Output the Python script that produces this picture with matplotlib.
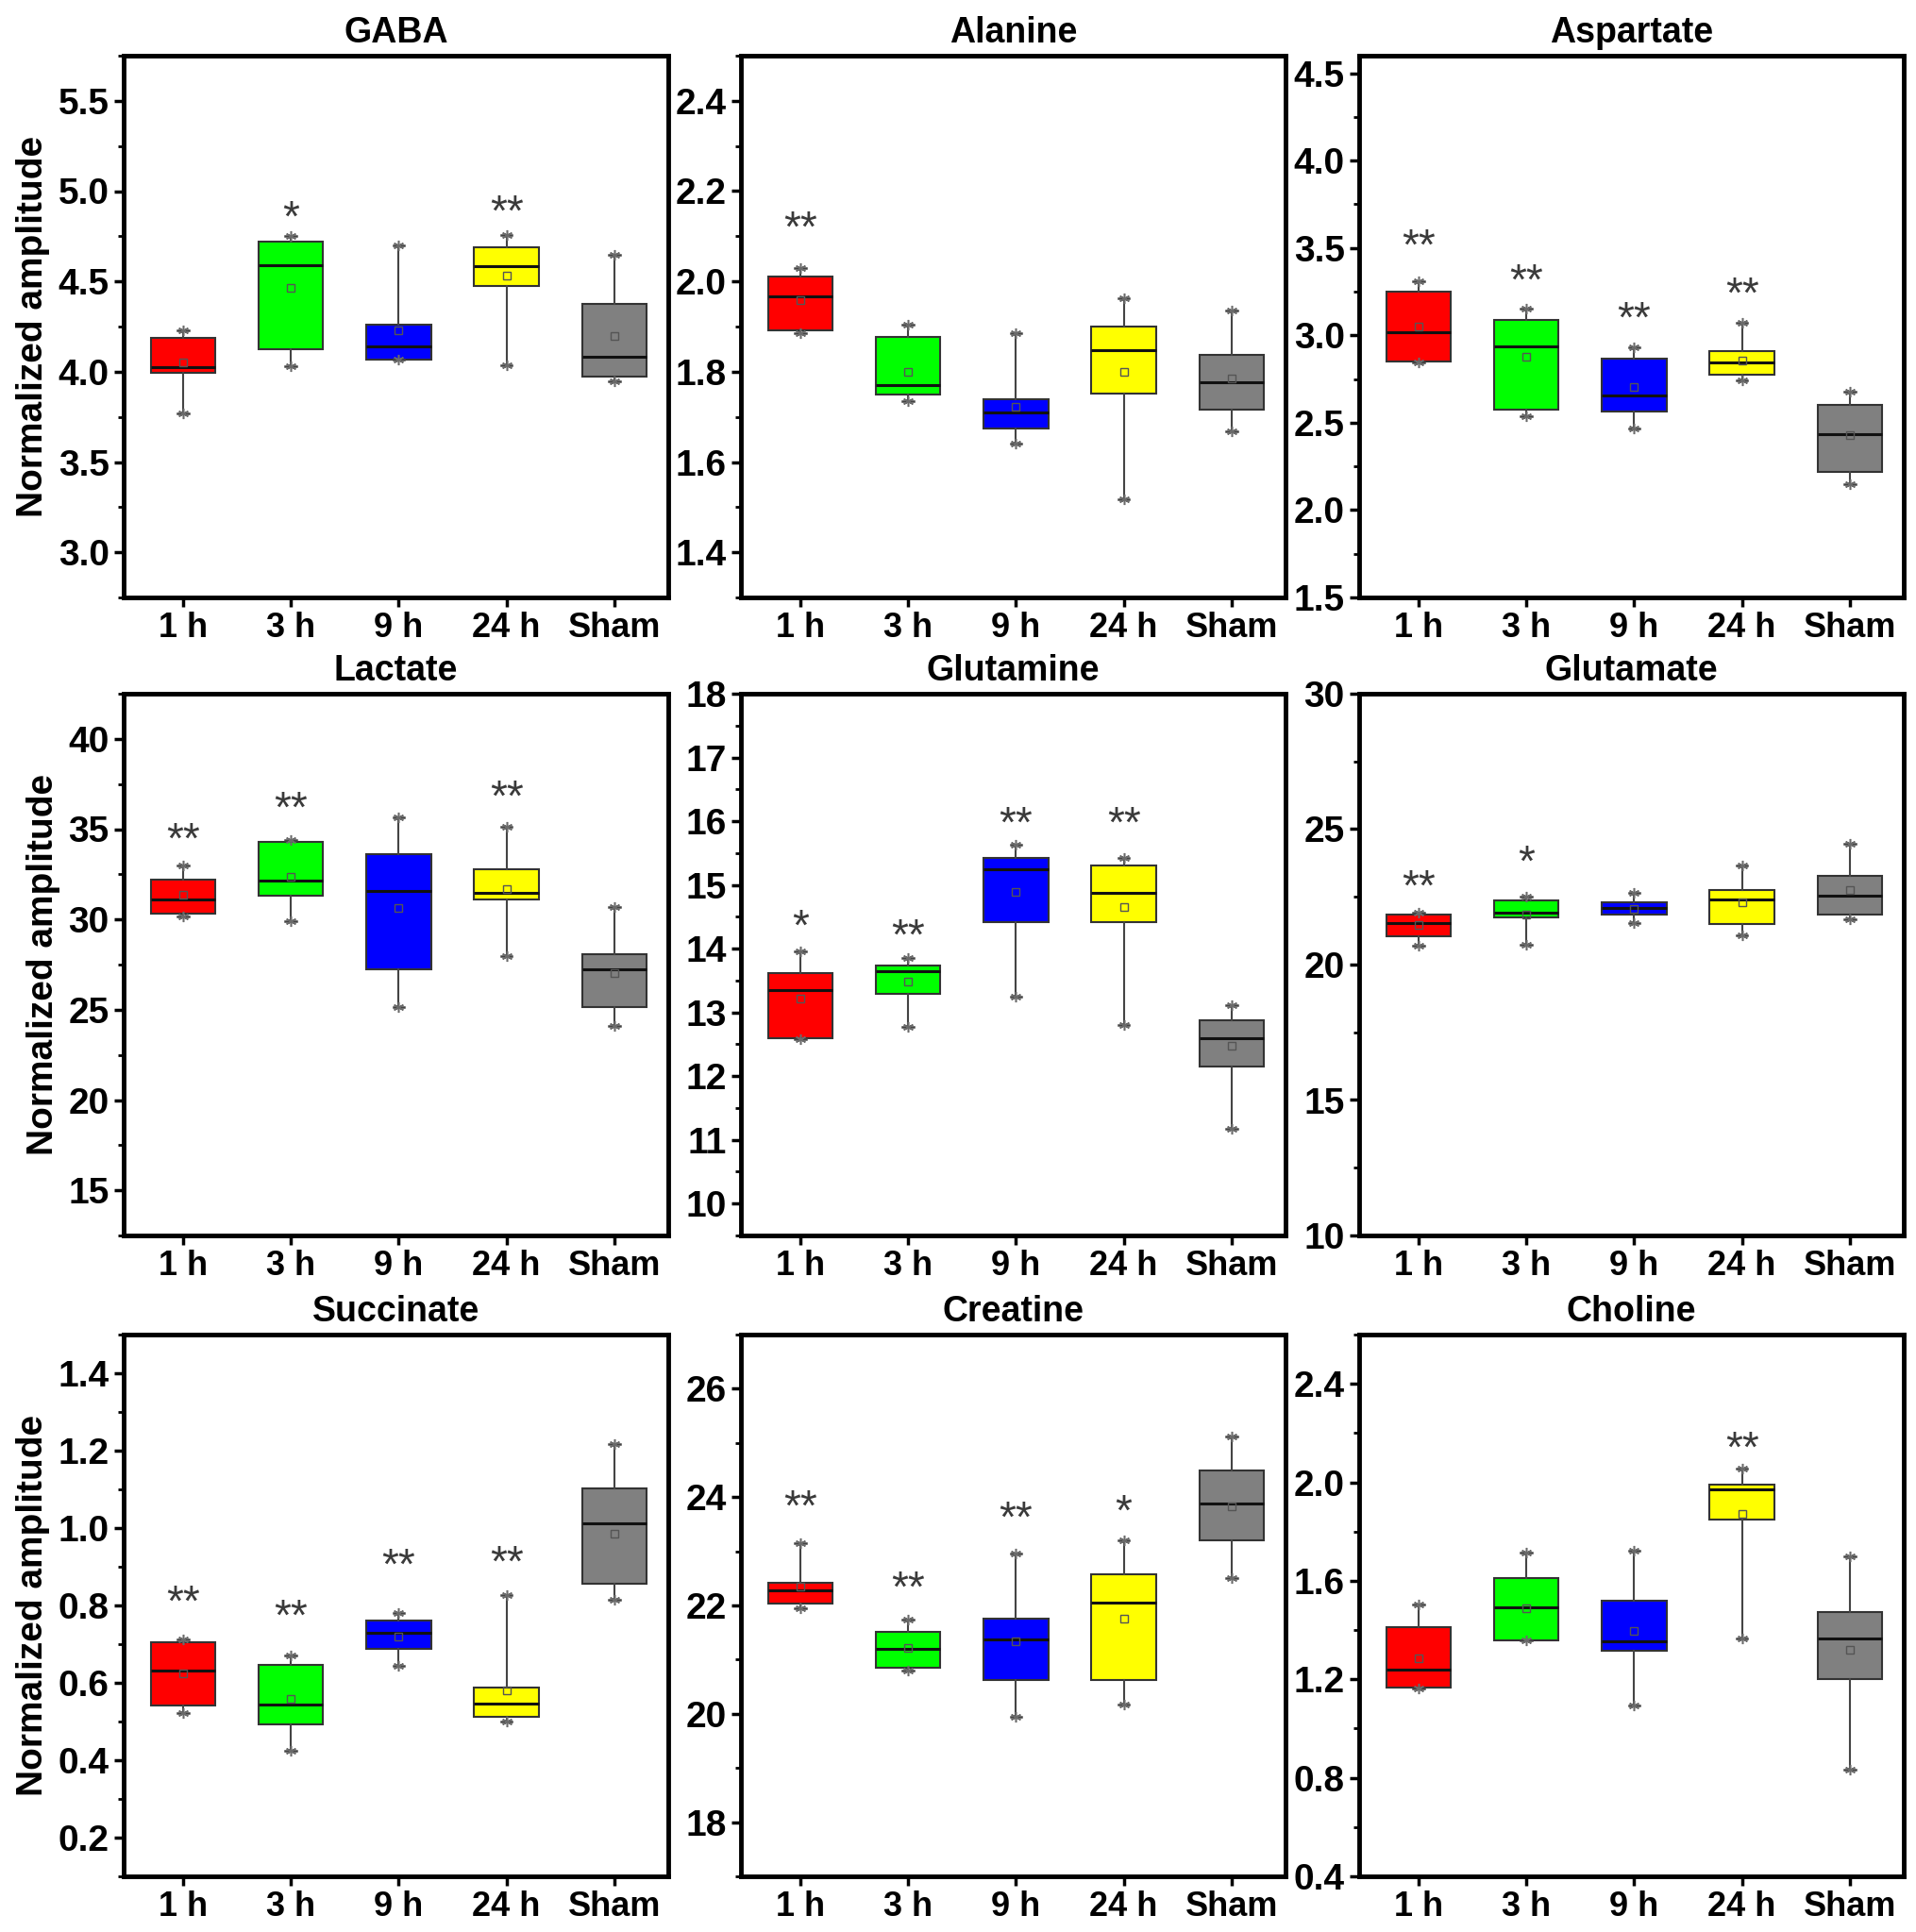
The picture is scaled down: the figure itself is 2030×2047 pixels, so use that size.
import numpy as np
import matplotlib.pyplot as plt
from matplotlib.ticker import MultipleLocator

plt.rcParams['font.family'] = ['Liberation Sans', 'DejaVu Sans']
plt.rcParams['font.weight'] = 'bold'

groups = ['1 h', '3 h', '9 h', '24 h', 'Sham']
colors = ['#ff0000', '#00ff00', '#0000ff', '#ffff00', '#808080']

# values: q1, median, q3, whisker low/high, mean
gaba_q1 = [3.995, 4.125, 4.067, 4.476, 3.972]
gaba_med = [4.023, 4.589, 4.141, 4.584, 4.083]
gaba_q3 = [4.187, 4.718, 4.261, 4.690, 4.376]
gaba_lo = [3.771, 4.032, 4.065, 4.037, 3.945]
gaba_hi = [4.229, 4.753, 4.700, 4.759, 4.649]
gaba_mean = [4.053, 4.466, 4.229, 4.531, 4.199]
gaba_sig = ['', '*', '', '**', '']
gaba_sig_y = [0, 4.91, 0, 4.94, 0]

ala_q1 = [1.891, 1.750, 1.674, 1.751, 1.716]
ala_med = [1.967, 1.771, 1.709, 1.847, 1.777]
ala_q3 = [2.010, 1.877, 1.739, 1.900, 1.837]
ala_lo = [1.885, 1.734, 1.640, 1.518, 1.668]
ala_hi = [2.030, 1.905, 1.885, 1.962, 1.935]
ala_mean = [1.958, 1.800, 1.723, 1.800, 1.785]
ala_sig = ['**', '', '', '', '']
ala_sig_y = [2.14, 0, 0, 0, 0]

asp_q1 = [2.848, 2.575, 2.565, 2.772, 2.219]
asp_med = [3.017, 2.938, 2.656, 2.843, 2.437]
asp_q3 = [3.252, 3.086, 2.867, 2.907, 2.603]
asp_lo = [2.843, 2.539, 2.468, 2.743, 2.147]
asp_hi = [3.311, 3.152, 2.933, 3.074, 2.677]
asp_mean = [3.050, 2.879, 2.703, 2.855, 2.428]
asp_sig = ['**', '**', '**', '**', '']
asp_sig_y = [3.565, 3.366, 3.152, 3.29, 0]

lac_q1 = [30.30, 31.33, 27.22, 31.10, 25.15]
lac_med = [31.10, 32.16, 31.59, 31.45, 27.24]
lac_q3 = [32.18, 34.32, 33.59, 32.76, 28.07]
lac_lo = [30.14, 29.91, 25.15, 27.98, 24.11]
lac_hi = [32.97, 34.39, 35.66, 35.15, 30.67]
lac_mean = [31.38, 32.37, 30.64, 31.68, 27.01]
lac_sig = ['**', '**', '', '**', '']
lac_sig_y = [34.97, 36.69, 0, 37.34, 0]

gln_q1 = [12.60, 13.29, 14.42, 14.42, 12.15]
gln_med = [13.35, 13.65, 15.24, 14.87, 12.60]
gln_q3 = [13.62, 13.74, 15.43, 15.31, 12.88]
gln_lo = [12.58, 12.77, 13.25, 12.80, 11.17]
gln_hi = [13.95, 13.85, 15.63, 15.42, 13.11]
gln_mean = [13.22, 13.48, 14.89, 14.66, 12.47]
gln_sig = ['*', '**', '**', '**', '']
gln_sig_y = [14.50, 14.35, 16.12, 16.12, 0]

glu_q1 = [21.03, 21.73, 21.84, 21.50, 21.86]
glu_med = [21.55, 21.90, 22.09, 22.41, 22.56]
glu_q3 = [21.83, 22.36, 22.30, 22.76, 23.28]
glu_lo = [20.71, 20.74, 21.55, 21.09, 21.67]
glu_hi = [21.90, 22.52, 22.65, 23.67, 24.46]
glu_mean = [21.46, 21.86, 22.04, 22.29, 22.75]
glu_sig = ['**', '*', '', '', '']
glu_sig_y = [23.24, 24.13, 0, 0, 0]

suc_q1 = [0.542, 0.492, 0.687, 0.513, 0.855]
suc_med = [0.632, 0.545, 0.729, 0.547, 1.011]
suc_q3 = [0.705, 0.647, 0.761, 0.589, 1.102]
suc_lo = [0.521, 0.425, 0.644, 0.499, 0.815]
suc_hi = [0.711, 0.671, 0.781, 0.826, 1.216]
suc_mean = [0.624, 0.559, 0.719, 0.580, 0.986]
suc_sig = ['**', '**', '**', '**', '']
suc_sig_y = [0.833, 0.797, 0.930, 0.936, 0]

cre_q1 = [22.03, 20.85, 20.62, 20.63, 23.20]
cre_med = [22.28, 21.19, 21.37, 22.05, 23.88]
cre_q3 = [22.42, 21.52, 21.76, 22.57, 24.49]
cre_lo = [21.94, 20.79, 19.95, 20.17, 22.51]
cre_hi = [23.15, 21.73, 22.95, 23.21, 25.11]
cre_mean = [22.34, 21.21, 21.33, 21.75, 23.83]
cre_sig = ['**', '**', '**', '*', '']
cre_sig_y = [24.0, 22.51, 23.79, 23.91, 0]

cho_q1 = [1.168, 1.357, 1.316, 1.847, 1.202]
cho_med = [1.239, 1.491, 1.353, 1.972, 1.364]
cho_q3 = [1.413, 1.612, 1.519, 1.990, 1.474]
cho_lo = [1.163, 1.357, 1.094, 1.364, 0.834]
cho_hi = [1.503, 1.713, 1.721, 2.057, 1.699]
cho_mean = [1.285, 1.490, 1.396, 1.871, 1.319]
cho_sig = ['', '', '', '**', '']
cho_sig_y = [0, 0, 0, 2.176, 0]

panels = [
    ('GABA', gaba_q1, gaba_med, gaba_q3, gaba_lo, gaba_hi, gaba_mean, gaba_sig, gaba_sig_y, (2.75, 5.75), 0.5),
    ('Alanine', ala_q1, ala_med, ala_q3, ala_lo, ala_hi, ala_mean, ala_sig, ala_sig_y, (1.3, 2.5), 0.2),
    ('Aspartate', asp_q1, asp_med, asp_q3, asp_lo, asp_hi, asp_mean, asp_sig, asp_sig_y, (1.5, 4.6), 0.5),
    ('Lactate', lac_q1, lac_med, lac_q3, lac_lo, lac_hi, lac_mean, lac_sig, lac_sig_y, (12.5, 42.5), 5),
    ('Glutamine', gln_q1, gln_med, gln_q3, gln_lo, gln_hi, gln_mean, gln_sig, gln_sig_y, (9.5, 18), 1),
    ('Glutamate', glu_q1, glu_med, glu_q3, glu_lo, glu_hi, glu_mean, glu_sig, glu_sig_y, (10, 30), 5),
    ('Succinate', suc_q1, suc_med, suc_q3, suc_lo, suc_hi, suc_mean, suc_sig, suc_sig_y, (0.1, 1.5), 0.2),
    ('Creatine', cre_q1, cre_med, cre_q3, cre_lo, cre_hi, cre_mean, cre_sig, cre_sig_y, (17, 27), 2),
    ('Choline', cho_q1, cho_med, cho_q3, cho_lo, cho_hi, cho_mean, cho_sig, cho_sig_y, (0.4, 2.6), 0.4),
]

W, H = 2031, 2047
fig = plt.figure(figsize=(W / 100, H / 100), dpi=100)
lefts = [131, 785, 1440]
tops = [59, 735, 1414]
aw, ah = 577, 574
pos = np.arange(1, 6)

for k, (name, q1, med, q3, lo, hi, mean, sig, sig_y, ylim, step) in enumerate(panels):
    r, c = divmod(k, 3)
    ax = fig.add_axes([lefts[c] / W, 1 - (tops[r] + ah) / H, aw / W, ah / H])
    stats = [dict(q1=q1[i], med=med[i], q3=q3[i], whislo=lo[i], whishi=hi[i],
                  mean=mean[i], fliers=[]) for i in range(5)]
    bp = ax.bxp(stats, positions=pos, widths=0.6, patch_artist=True,
                showmeans=True, capwidths=0.1,
                boxprops=dict(edgecolor='#333333', linewidth=1.5),
                medianprops=dict(color='#111111', linewidth=2.2),
                whiskerprops=dict(color='#444444', linewidth=1.5),
                capprops=dict(color='#444444', linewidth=1.8),
                meanprops=dict(marker='s', markersize=6, markerfacecolor='none',
                               markeredgecolor='#555555', markeredgewidth=1))
    for patch, col in zip(bp['boxes'], colors):
        patch.set_facecolor(col)
    # whisker-end markers
    ax.plot(pos, lo, ls='none', marker=(6, 2, 0), markersize=8, color='#6a6a6a', mew=1.1)
    ax.plot(pos, hi, ls='none', marker=(6, 2, 0), markersize=8, color='#6a6a6a', mew=1.1)
    for i in range(5):
        if sig[i]:
            ax.annotate(sig[i], (pos[i], sig_y[i]), xytext=(0, -9), textcoords='offset points',
                        ha='center', va='center', fontsize=33, fontweight='normal',
                        color='#3a3a3a')

    ax.set_xlim(0.45, 5.5)
    ax.set_ylim(*ylim)
    ax.yaxis.set_major_locator(MultipleLocator(step))
    ax.yaxis.set_minor_locator(MultipleLocator(step / 2))
    ax.set_xticks(pos)
    ax.set_xticklabels(groups)
    ax.tick_params(axis='both', which='major', direction='out', length=7, width=2.5, pad=4)
    ax.tick_params(axis='x', labelsize=26)
    ax.tick_params(axis='y', labelsize=28)
    ax.tick_params(axis='y', which='minor', direction='out', length=4, width=2)
    ax.tick_params(top=False, right=False)
    for s in ax.spines.values():
        s.set_linewidth(3.5)
    ax.set_title(name, fontsize=27, fontweight='bold', pad=10)
    if c == 0:
        ax.set_ylabel('Normalized amplitude', fontsize=28, fontweight='bold', labelpad=6)

fig.savefig('out.png', dpi=100)
